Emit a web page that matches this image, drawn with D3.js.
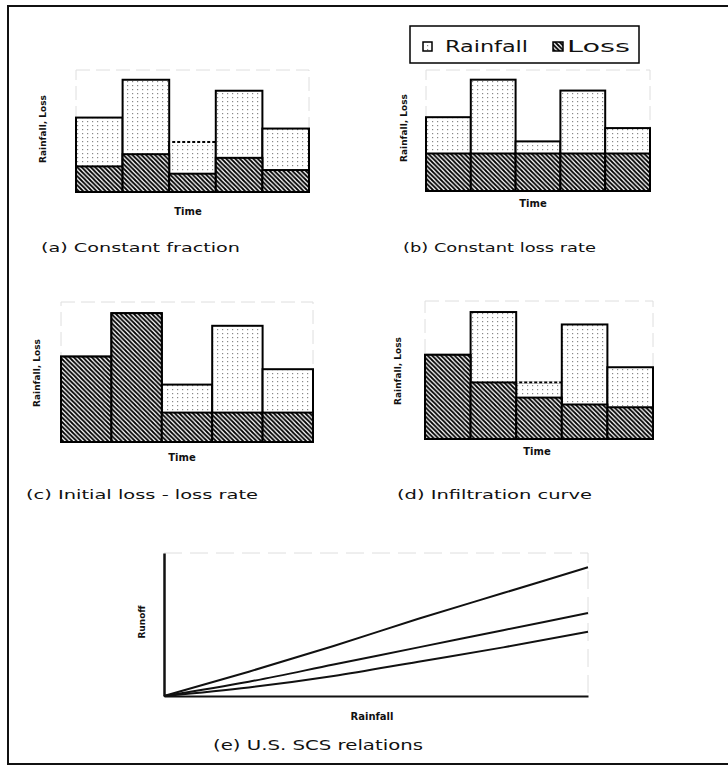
<!DOCTYPE html>
<html>
<head>
<meta charset="utf-8">
<script src="https://cdn.jsdelivr.net/npm/d3@7"></script>
<style>
  html, body { margin: 0; padding: 0; background: #fff; }
  svg { display: block; }
  text { font-family: "DejaVu Sans", Verdana, sans-serif; fill: #111; }
</style>
</head>
<body>
<svg id="chart" width="728" height="766"></svg>
<script>
// Rainfall pulses per time step (same storm in every panel)
const periods = ["t1", "t2", "t3", "t4", "t5"];
const rainfall = [6.1, 9.2, 4.1, 8.3, 5.2];

// Loss in each time step for the four loss models
const lossConstantFraction = [2.1, 3.1, 1.5, 2.8, 1.8];
const lossConstantRate = [3.1, 3.1, 3.1, 3.1, 3.1];
const lossInitialPlusRate = [6.1, 9.2, 2.1, 2.1, 2.1];
const lossInfiltrationCurve = [6.1, 4.1, 3.0, 2.5, 2.3];

// SCS rainfall-runoff relations (three curve numbers)
const scsRainfall = [0, 2, 4, 6, 8, 10];
const scsRunoffHigh = [0, 1.7, 3.5, 5.4, 7.2, 9.0];
const scsRunoffMid = [0, 1.0, 2.2, 3.4, 4.6, 5.8];
const scsRunoffLow = [0, 0.6, 1.4, 2.4, 3.4, 4.5];

const panelTitles = ["(a) Constant fraction", "(b) Constant loss rate",
  "(c) Initial loss - loss rate", "(d) Infiltration curve", "(e) U.S. SCS relations"];
const legendLabels = ["Rainfall", "Loss"];

const svg = d3.select("#chart");
const defs = svg.append("defs");

// diagonal hatch used for losses
const hatch = defs.append("pattern").attr("id", "hatch")
  .attr("patternUnits", "userSpaceOnUse").attr("width", 4.5).attr("height", 4.5);
hatch.append("rect").attr("width", 4.5).attr("height", 4.5).attr("fill", "#fff");
hatch.append("path")
  .attr("d", "M-1,-1 L5.5,5.5 M-1,3.5 L1,5.5 M3.5,-1 L5.5,1")
  .attr("stroke", "#000").attr("stroke-width", 1.8);

// sparse dot fill used for rainfall excess
const dots = defs.append("pattern").attr("id", "dots")
  .attr("patternUnits", "userSpaceOnUse").attr("width", 5).attr("height", 4);
dots.append("rect").attr("width", 5).attr("height", 4).attr("fill", "#fff");
dots.append("rect").attr("x", 2).attr("y", 1).attr("width", 1.2).attr("height", 1.2).attr("fill", "#888");

// outer frame (top, left, bottom)
svg.append("path")
  .attr("d", "M728,6 L8,6 L8,764 L728,764")
  .attr("fill", "none").attr("stroke", "#111").attr("stroke-width", 2);

const panels = [
  { loss: lossConstantFraction, x0: 76, x1: 309, y0: 192, y1: 70, title: panelTitles[0],
    tx: 41, ty: 252, tw: 199, yl: [43, 129], xl: [188, 215], dashTop: [2] },
  { loss: lossConstantRate, x0: 426, x1: 650, y0: 191, y1: 70, title: panelTitles[1],
    tx: 403, ty: 252, tw: 193, yl: [404, 128], xl: [533, 207], dashTop: [] },
  { loss: lossInitialPlusRate, x0: 61, x1: 313, y0: 442, y1: 302, title: panelTitles[2],
    tx: 26, ty: 499, tw: 232, yl: [37, 373], xl: [182, 461], dashTop: [] },
  { loss: lossInfiltrationCurve, x0: 425, x1: 653, y0: 439, y1: 301, title: panelTitles[3],
    tx: 397, ty: 499, tw: 195, yl: [398, 371], xl: [537, 455], dashTop: [2] }
];

panels.forEach(p => {
  const g = svg.append("g");
  const x = d3.scaleBand().domain(periods).range([p.x0, p.x1]).padding(0);
  const y = d3.scaleLinear().domain([0, 10]).range([p.y0, p.y1]);

  // faint plot frame
  g.append("rect")
    .attr("x", p.x0).attr("y", p.y1).attr("width", p.x1 - p.x0).attr("height", p.y0 - p.y1)
    .attr("fill", "none").attr("stroke", "#dedede").attr("stroke-width", 1)
    .attr("stroke-dasharray", "14,6");

  // rainfall bars
  g.selectAll("rect.rain").data(periods).join("rect").attr("class", "rain")
    .attr("x", d => x(d)).attr("width", x.bandwidth())
    .attr("y", (d, i) => y(rainfall[i]))
    .attr("height", (d, i) => y(0) - y(rainfall[i]))
    .attr("fill", "url(#dots)").attr("stroke", "#000").attr("stroke-width", 2);

  // dashed top edge on some pulses
  g.selectAll("line.dtop").data(p.dashTop).join("line").attr("class", "dtop")
    .attr("x1", i => x(periods[i]) + 1).attr("x2", i => x(periods[i]) + x.bandwidth() - 1)
    .attr("y1", i => y(rainfall[i])).attr("y2", i => y(rainfall[i]))
    .attr("stroke", "#fff").attr("stroke-width", 2.2).attr("stroke-dasharray", "2,3");

  // loss bars
  g.selectAll("rect.loss").data(periods).join("rect").attr("class", "loss")
    .attr("x", d => x(d)).attr("width", x.bandwidth())
    .attr("y", (d, i) => y(p.loss[i]))
    .attr("height", (d, i) => y(0) - y(p.loss[i]))
    .attr("fill", "url(#hatch)").attr("stroke", "#000").attr("stroke-width", 2);

  // axis titles
  g.append("text").attr("transform", `translate(${p.yl[0]},${p.yl[1]}) rotate(-90)`)
    .attr("text-anchor", "middle").attr("dy", "0.35em")
    .attr("font-size", 9).attr("font-weight", "bold").attr("font-family", "Liberation Sans Narrow, Liberation Sans, sans-serif")
    .text("Rainfall, Loss");
  g.append("text").attr("x", p.xl[0]).attr("y", p.xl[1])
    .attr("text-anchor", "middle").attr("font-size", 10).attr("font-weight", "bold")
    .text("Time");

  // panel caption
  g.append("text").attr("x", p.tx).attr("y", p.ty)
    .attr("font-size", 13).attr("textLength", p.tw).attr("lengthAdjust", "spacingAndGlyphs")
    .text(p.title);
});

// legend
const lg = svg.append("g");
lg.append("rect").attr("x", 410).attr("y", 26).attr("width", 229).attr("height", 37)
  .attr("fill", "#fff").attr("stroke", "#000").attr("stroke-width", 1.5);
lg.append("rect").attr("x", 423).attr("y", 42).attr("width", 9).attr("height", 9)
  .attr("fill", "url(#dots)").attr("stroke", "#000").attr("stroke-width", 1.5);
lg.append("text").attr("x", 445).attr("y", 52).attr("font-size", 16)
  .attr("font-family", "Liberation Sans, Arial, sans-serif")
  .attr("textLength", 83).attr("lengthAdjust", "spacingAndGlyphs").text(legendLabels[0]);
lg.append("rect").attr("x", 553).attr("y", 42).attr("width", 10).attr("height", 9)
  .attr("fill", "url(#hatch)").attr("stroke", "#000").attr("stroke-width", 1.5);
lg.append("text").attr("x", 567).attr("y", 52).attr("font-size", 16)
  .attr("font-family", "Liberation Sans, Arial, sans-serif")
  .attr("textLength", 63).attr("lengthAdjust", "spacingAndGlyphs").text(legendLabels[1]);

// panel (e): SCS rainfall-runoff curves
const ge = svg.append("g");
const xe = d3.scaleLinear().domain([0, 10]).range([164, 588]);
const ye = d3.scaleLinear().domain([0, 10]).range([696, 553]);

ge.append("path")
  .attr("d", `M${xe(0)},${ye(10)} L${xe(10)},${ye(10)} L${xe(10)},${ye(0)}`)
  .attr("fill", "none").attr("stroke", "#dedede").attr("stroke-width", 1).attr("stroke-dasharray", "18,8");

const line = d3.line().x((d, i) => xe(scsRainfall[i])).y(d => ye(d)).curve(d3.curveMonotoneX);
[scsRunoffHigh, scsRunoffMid, scsRunoffLow].forEach(s => {
  ge.append("path").attr("d", line(s)).attr("fill", "none")
    .attr("stroke", "#111").attr("stroke-width", 2);
});

ge.append("g").attr("transform", `translate(0,${ye(0)})`)
  .call(d3.axisBottom(xe).tickValues([]).tickSizeOuter(0))
  .call(a => a.select(".domain").attr("stroke", "#111").attr("stroke-width", 2));
ge.append("g").attr("transform", `translate(${xe(0)},0)`)
  .call(d3.axisLeft(ye).tickValues([]).tickSizeOuter(0))
  .call(a => a.select(".domain").attr("stroke", "#111").attr("stroke-width", 2.5));

ge.append("text").attr("transform", `translate(142,622) rotate(-90)`)
  .attr("text-anchor", "middle").attr("dy", "0.35em").attr("font-size", 9).attr("font-weight", "bold")
  .attr("font-family", "Liberation Sans Narrow, Liberation Sans, sans-serif")
  .text("Runoff");
ge.append("text").attr("x", 372).attr("y", 720).attr("text-anchor", "middle")
  .attr("font-size", 10).attr("font-weight", "bold").text("Rainfall");
ge.append("text").attr("x", 213).attr("y", 750).attr("font-size", 14)
  .attr("textLength", 210).attr("lengthAdjust", "spacingAndGlyphs").text(panelTitles[4]);
</script>
</body>
</html>
